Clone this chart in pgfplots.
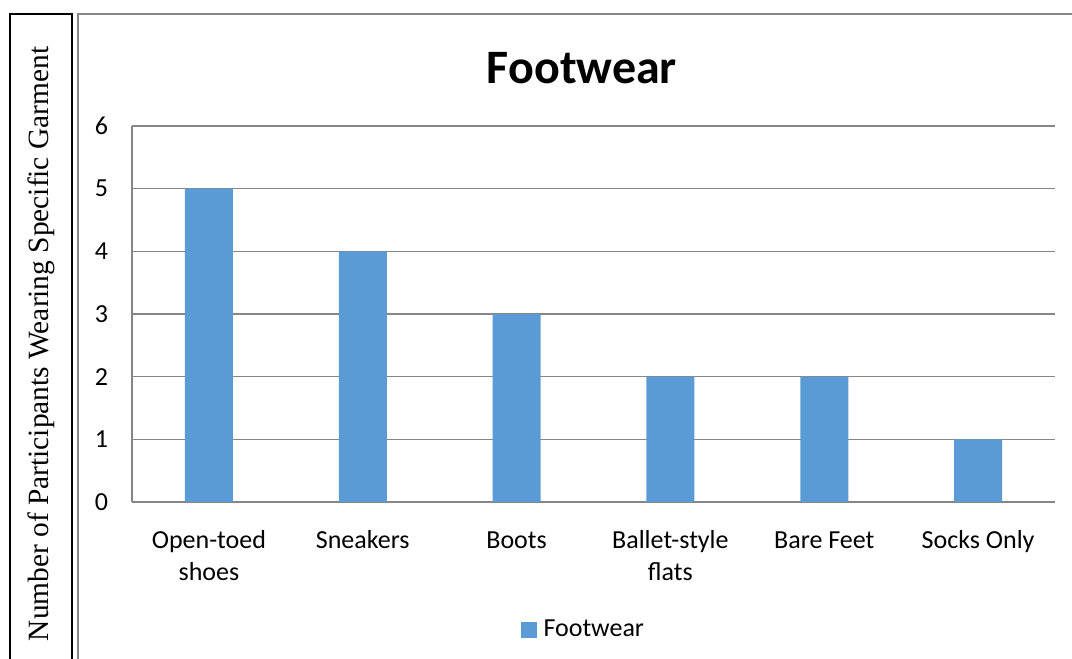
\documentclass[border=0pt]{standalone}
\usepackage{pgfplots}
\pgfplotsset{compat=1.18}
\usepackage{fontspec}
\setmainfont{Carlito}
\newfontfamily\timesfont{Liberation Serif}
\definecolor{barblue}{HTML}{5B9BD5}
\definecolor{gridgray}{HTML}{868686}
\begin{document}
\begin{tikzpicture}[x=0.5pt,y=0.5pt]
  \useasboundingbox (0,0) rectangle (1072,659);
  \clip (0,0) rectangle (1072,659);
  % outer frames
  \draw[black, line width=1pt] (10,-5) -- (10,645) -- (72,645) -- (72,-5);
  \draw[gridgray, line width=1pt] (78,-5) -- (78,645) -- (1080,645);
  % side label
  \node[rotate=90, font=\timesfont\fontsize{14.7}{17}\selectfont] at (41,315)
    {Number of Participants Wearing Specific Garment};
  % title
  \node[font=\bfseries\fontsize{24}{28}\selectfont] at (582,591) {Footwear};
  \begin{axis}[
    at={(66pt,78.5pt)}, anchor=south west,
    scale only axis, width=461.5pt, height=188pt,
    xmin=-0.5, xmax=5.5, ymin=0, ymax=6,
    ytick={0,1,2,3,4,5,6},
    xtick={0,1,2,3,4,5},
    xticklabels={\strut Open-toed\\shoes, \strut Sneakers, \strut Boots,
      \strut Ballet-style\\flats, \strut Bare Feet, \strut Socks Only},
    xticklabel style={align=center, font=\fontsize{13}{16}\selectfont, yshift=-8.5pt},
    yticklabel style={font=\fontsize{13}{15}\selectfont, xshift=-8.5pt},
    /pgf/number format/assume math mode=true,
    axis lines*=left,
    axis line style={gridgray, line width=0.75pt, -},
    major tick length=0pt,
    ymajorgrids,
    grid style={gridgray, line width=0.75pt},
    ybar, bar width=24pt,
    legend style={at={(0.49,-0.34)}, anchor=center, draw=none,
      font=\fontsize{13}{15}\selectfont, inner sep=0pt},
    legend image code/.code={\fill[barblue] (0pt,-4pt) rectangle (8pt,4pt);},
    legend cell align=left,
    legend style={/tikz/every odd column/.append style={column sep=1.5pt}},
  ]
    \addplot[fill=barblue, draw=none] coordinates {(0,5) (1,4) (2,3) (3,2) (4,2) (5,1)};
    \addlegendentry{Footwear}
  \end{axis}
\end{tikzpicture}
\end{document}
